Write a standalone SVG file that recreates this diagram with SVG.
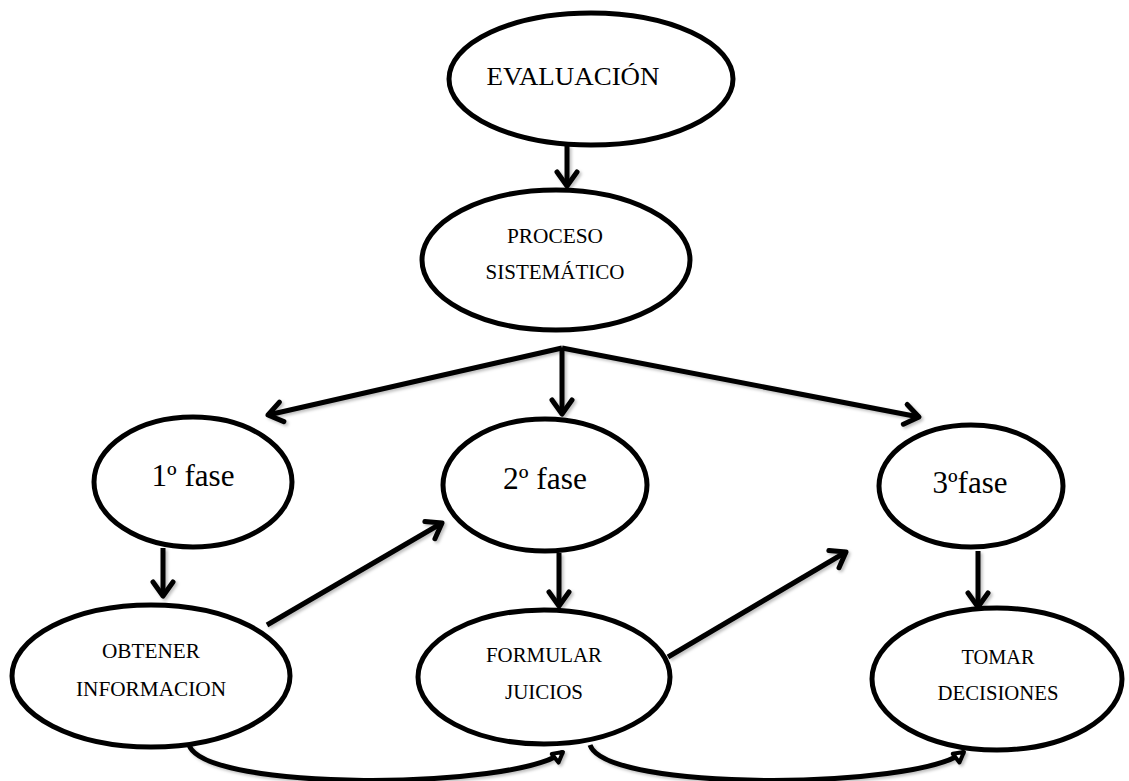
<svg xmlns="http://www.w3.org/2000/svg" width="1129" height="781" viewBox="0 0 1129 781">
<style>
.node ellipse{fill:#fff;stroke:#000;stroke-width:5}
.node text{font-family:"Liberation Serif","Times New Roman",serif;fill:#000;text-anchor:middle}
.big{font-size:31px}
.mid{font-size:26px}
.sm{font-size:21px}
.conn{fill:none;stroke:#000;stroke-width:5;stroke-linecap:butt}
</style>
<defs>
<filter id="sh" x="-20%" y="-20%" width="140%" height="140%">
<feDropShadow dx="2" dy="2" stdDeviation="1.5" flood-color="#000" flood-opacity="0.25"/>
</filter>
<marker id="chev" markerUnits="userSpaceOnUse" markerWidth="40" markerHeight="40" viewBox="-20 -20 40 40" refX="0" refY="0" orient="auto" overflow="visible">
<path d="M-14,-10 L0,0 L-14,10" fill="none" stroke="#000" stroke-width="5" stroke-linejoin="round" stroke-linecap="round"/>
</marker>
<marker id="tri" markerUnits="userSpaceOnUse" markerWidth="30" markerHeight="30" viewBox="-15 -15 30 30" refX="0" refY="0" orient="auto" overflow="visible">
<path d="M0,0 L-10,-5.5 L-10,5.5 Z" fill="#fff" stroke="#000" stroke-width="4" stroke-linejoin="round"/>
</marker>
</defs>
<rect width="1129" height="781" fill="#fff"/>

<g id="connectors" filter="url(#sh)">
<path class="conn" d="M567,145 L567,186" marker-end="url(#chev)"/>
<path class="conn" d="M562,348 L268,415" marker-end="url(#chev)"/>
<path class="conn" d="M562,348 L562,414" marker-end="url(#chev)"/>
<path class="conn" d="M562,348 L919,417" marker-end="url(#chev)"/>
<path class="conn" d="M163,548 L163,596" marker-end="url(#chev)"/>
<path class="conn" d="M559,553 L559,606" marker-end="url(#chev)"/>
<path class="conn" d="M978,551 L978,607" marker-end="url(#chev)"/>
<path class="conn" d="M267,625 L442,523" marker-end="url(#chev)"/>
<path class="conn" d="M668,657 L846,552" marker-end="url(#chev)"/>
<path class="conn" d="M189,745 C205,792 515,790 563,752" marker-end="url(#tri)"/>
<path class="conn" d="M590,745 C606,792 915,790 964,752" marker-end="url(#tri)"/>
</g>

<g id="evaluacion" class="node">
<ellipse cx="591" cy="79" rx="142" ry="66"/>
<text class="mid" x="573" y="85" textLength="173" lengthAdjust="spacingAndGlyphs">EVALUACIÓN</text>
</g>
<g id="proceso" class="node">
<ellipse cx="556" cy="260" rx="134" ry="70"/>
<text class="sm" x="555" y="243" textLength="96" lengthAdjust="spacingAndGlyphs">PROCESO</text>
<text class="sm" x="555" y="279" textLength="139" lengthAdjust="spacingAndGlyphs">SISTEMÁTICO</text>
</g>
<g id="fase1" class="node">
<ellipse cx="193" cy="482" rx="99" ry="65"/>
<text class="big" x="193" y="486" textLength="83" lengthAdjust="spacingAndGlyphs">1º fase</text>
</g>
<g id="fase2" class="node">
<ellipse cx="545" cy="485" rx="102" ry="66"/>
<text class="big" x="545" y="489" textLength="84" lengthAdjust="spacingAndGlyphs">2º fase</text>
</g>
<g id="fase3" class="node">
<ellipse cx="971" cy="486" rx="92" ry="61"/>
<text class="big" x="970" y="493" textLength="75" lengthAdjust="spacingAndGlyphs">3ºfase</text>
</g>
<g id="obtener" class="node">
<ellipse cx="151" cy="676" rx="139" ry="71"/>
<text class="sm" x="151" y="658" textLength="98" lengthAdjust="spacingAndGlyphs">OBTENER</text>
<text class="sm" x="151" y="696" textLength="150" lengthAdjust="spacingAndGlyphs">INFORMACION</text>
</g>
<g id="formular" class="node">
<ellipse cx="544" cy="677" rx="126" ry="67"/>
<text class="sm" x="544" y="662" textLength="116" lengthAdjust="spacingAndGlyphs">FORMULAR</text>
<text class="sm" x="544" y="699" textLength="78" lengthAdjust="spacingAndGlyphs">JUICIOS</text>
</g>
<g id="tomar" class="node">
<ellipse cx="997" cy="679" rx="125" ry="71"/>
<text class="sm" x="998" y="664" textLength="73" lengthAdjust="spacingAndGlyphs">TOMAR</text>
<text class="sm" x="998" y="700" textLength="121" lengthAdjust="spacingAndGlyphs">DECISIONES</text>
</g>
</svg>
